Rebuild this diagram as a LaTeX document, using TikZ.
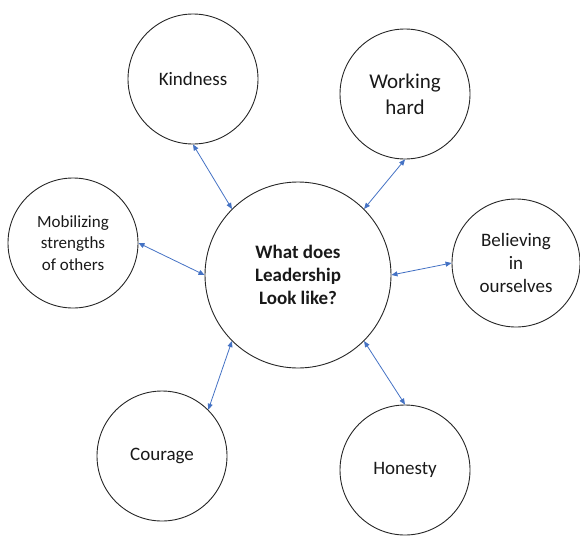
\documentclass[tikz,border=0pt]{standalone}
\usepackage{fontspec}
\setmainfont{Carlito}
\usetikzlibrary{arrows.meta}
\begin{document}
\begin{tikzpicture}[x=1pt,y=-1pt,
  bub/.style={circle,draw=black!85,line width=0.9pt,align=center,inner sep=0pt,text=black!90},
  link/.style={draw=blue!55!cyan!60!black,color={rgb,255:red,68;green,114;blue,196},line width=0.8pt,{Triangle[length=6pt,width=5pt]}-{Triangle[length=6pt,width=5pt]}}
]
\useasboundingbox (0,0) rectangle (580,536);
\node[bub,minimum size=186pt,font=\fontsize{19}{23}\selectfont\bfseries] (c) at (298,275) {What does\\Leadership\\Look like?};
\node[bub,minimum size=130pt,font=\fontsize{19}{23}\selectfont] (kind) at (193,79) {Kindness};
\node[bub,minimum size=130pt,font=\fontsize{21}{26}\selectfont] (work) at (405,94) {Working\\hard};
\node[bub,minimum size=130pt,font=\fontsize{17}{21.5}\selectfont] (mob) at (73,243) {Mobilizing\\strengths\\of others};
\node[bub,minimum size=128pt,font=\fontsize{19}{23}\selectfont] (bel) at (516,263) {Believing\\in\\ourselves};
\node[bub,minimum size=130pt,font=\fontsize{19}{23}\selectfont] (cour) at (162,456) {Courage};
\node[bub,minimum size=130pt,font=\fontsize{19}{23}\selectfont] (hon) at (405,470) {Honesty};
\draw[link] (kind.south) -- (c.north west);
\draw[link] (work.south) -- (c.north east);
\draw[link] (mob.east) -- (c.west);
\draw[link] (bel.west) -- (c.east);
\draw[link] (cour.north east) -- (c.south west);
\draw[link] (hon.north) -- (c.south east);
\end{tikzpicture}
\end{document}
